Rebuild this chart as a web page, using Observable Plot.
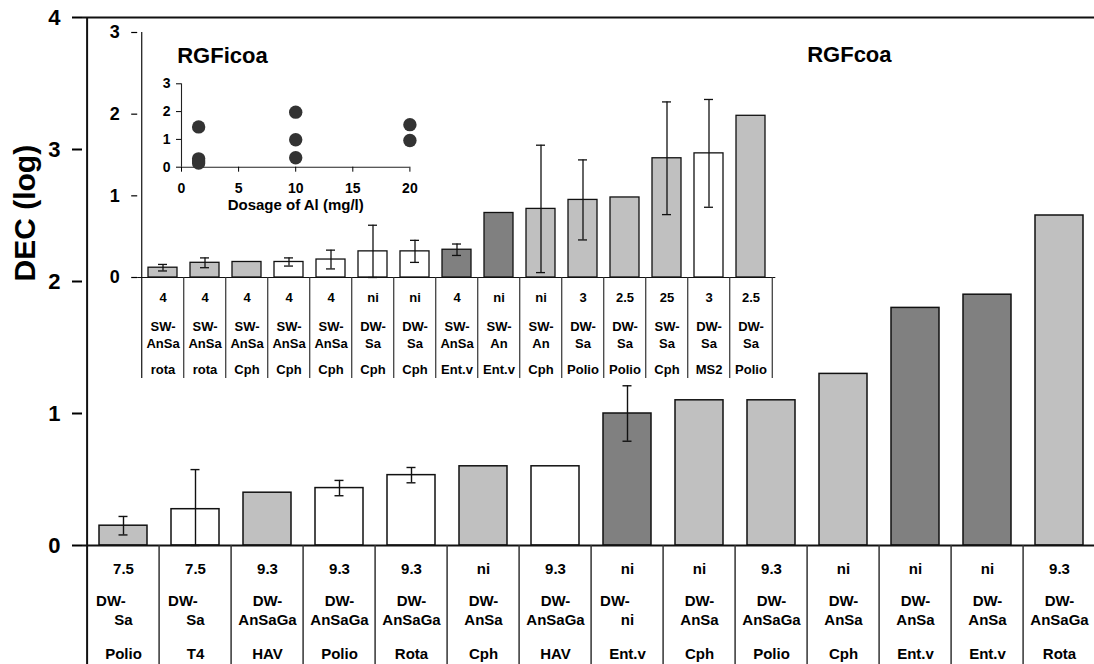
<!DOCTYPE html>
<html>
<head>
<meta charset="utf-8">
<script src="https://cdn.jsdelivr.net/npm/d3@7"></script>
<script src="https://cdn.jsdelivr.net/npm/@observablehq/plot@0.6"></script>
<style>
  html, body { margin: 0; padding: 0; background: #fff; overflow: hidden; }
  #chart { position: relative; width: 1094px; height: 664px; background: #fff; }
  #chart svg { position: absolute; left: 0; top: 0; background: transparent !important; overflow: hidden; }
</style>
</head>
<body>
<div id="chart"></div>
<script>
// ---- Main panel: RGFcoa treatments ----
const mainVirus   = ["Polio","T4","HAV","Polio","Rota","Cph","HAV","Ent.v","Cph","Polio","Cph","Ent.v","Ent.v","Rota"];
const mainPH      = ["7.5","7.5","9.3","9.3","9.3","ni","9.3","ni","ni","9.3","ni","ni","ni","9.3"];
const mainProcess = ["DW-Sa","DW-Sa","DW-AnSaGa","DW-AnSaGa","DW-AnSaGa","DW-AnSa","DW-AnSaGa","DW-ni","DW-AnSa","DW-AnSaGa","DW-AnSa","DW-AnSa","DW-AnSa","DW-AnSaGa"];
const mainDEC     = [0.15, 0.275, 0.40, 0.435, 0.533, 0.60, 0.60, 1.00, 1.10, 1.10, 1.30, 1.80, 1.90, 2.50];
const mainErr     = [0.07, 0.30, null, 0.058, 0.058, null, null, 0.21, null, null, null, null, null, null];
const mainGroup   = ["B","A","B","A","A","B","A","C","B","B","B","C","C","B"];
const mainTicks   = [0, 1, 2, 3, 4];

// ---- Inset panel: RGFicoa treatments ----
const insetVirus   = ["rota","rota","Cph","Cph","Cph","Cph","Cph","Ent.v","Ent.v","Cph","Polio","Polio","Cph","MS2","Polio"];
const insetPH      = ["4","4","4","4","4","ni","ni","4","ni","ni","3","2.5","25","3","2.5"];
const insetProcess = ["SW-AnSa","SW-AnSa","SW-AnSa","SW-AnSa","SW-AnSa","DW-Sa","DW-Sa","SW-AnSa","SW-An","SW-An","DW-Sa","DW-Sa","SW-Sa","DW-Sa","DW-Sa"];
const insetDEC     = [0.12, 0.18, 0.19, 0.19, 0.22, 0.32, 0.32, 0.34, 0.79, 0.84, 0.95, 0.98, 1.46, 1.52, 1.98];
const insetErr     = [0.04, 0.06, null, 0.05, 0.115, 0.32, 0.135, 0.07, null, 0.78, 0.49, null, 0.69, 0.66, null];
const insetGroup   = ["B","B","B","A","A","A","A","C","C","B","B","B","B","A","B"];
const insetTicks   = [0, 1, 2, 3];

// ---- Scatter: DEC versus Al dosage ----
const doseAl  = [1.5, 1.5, 1.5, 1.5, 10, 10, 10, 20, 20];
const doseDEC = [1.45, 0.30, 0.22, 0.15, 1.98, 0.99, 0.34, 1.53, 0.96];
const doseTicksX = [0, 5, 10, 15, 20];
const doseTicksY = [0, 1, 2, 3];

const W = 1094, H = 664;
const FONT = '"Liberation Sans", Arial, Helvetica, sans-serif';
const svgStyle = {fontFamily: FONT, background: "transparent", overflow: "hidden"};
const groupColor = {domain: ["A","B","C"], range: ["#ffffff", "#c0c0c0", "#808080"]};
const INK = "#111";

function split(s) {
  const k = s.indexOf("-");
  return [s.slice(0, k + 1), s.slice(k + 1)];
}
function rows(dec, err, grp, ph, proc, vir) {
  return dec.map((v, i) => ({
    i, dec: v, err: err[i], grp: grp[i], ph: ph[i],
    p1: split(proc[i])[0], p2: split(proc[i])[1], virus: vir[i]
  }));
}

const main = rows(mainDEC, mainErr, mainGroup, mainPH, mainProcess, mainVirus);
const inset = rows(insetDEC, insetErr, insetGroup, insetPH, insetProcess, insetVirus);
const doses = doseAl.map((x, i) => ({x, y: doseDEC[i]}));

const root = document.getElementById("chart");

// ---------- main chart ----------
{
  const left = 82, right = 1101.2, top = 17, base = 545;
  const step = (right - left) / main.length;
  const below = H - base;
  const withErr = main.filter(d => d.err != null);
  const txt = {fontSize: 15, fontWeight: "bold", fill: "#000", frameAnchor: "bottom", lineAnchor: "middle"};
  root.append(Plot.plot({
    width: W, height: H,
    marginLeft: left, marginRight: 0, marginTop: top, marginBottom: below,
    style: svgStyle,
    x: {type: "band", domain: d3.range(main.length), range: [left, right],
        paddingInner: 0.33, paddingOuter: 0.165, axis: null},
    y: {domain: [0, 4], axis: null},
    color: groupColor,
    marks: [
      Plot.barY(main, {x: "i", y: "dec", fill: "grp", stroke: INK, strokeWidth: 1.5}),
      Plot.ruleX(withErr, {x: "i", y1: d => Math.max(0, d.dec - d.err), y2: d => d.dec + d.err, stroke: INK, strokeWidth: 1.4}),
      Plot.tickY(withErr, {x: "i", y: d => d.dec + d.err, insetLeft: 19.5, insetRight: 19.5, stroke: INK, strokeWidth: 1.4}),
      Plot.tickY(withErr, {x: "i", y: d => Math.max(0, d.dec - d.err), insetLeft: 19.5, insetRight: 19.5, stroke: INK, strokeWidth: 1.4}),
      // frame lines: top border, baseline, left axis
      Plot.ruleY([4], {stroke: INK, strokeWidth: 2}),
      Plot.ruleY([0], {stroke: INK, strokeWidth: 2}),
      Plot.ruleX([0], {x: d => d, dx: -step / 2, insetBottom: -below, stroke: INK, strokeWidth: 2}),
      Plot.axisY({ticks: mainTicks, tickSize: 10, tickPadding: 12, fontSize: 22, fontWeight: "bold",
                  tickFormat: d => String(d), label: null, strokeWidth: 2}),
      // category table below the bars
      Plot.ruleX(main.slice(1), {x: "i", dx: -step / 2, insetTop: base - top, insetBottom: -below, stroke: "#333", strokeWidth: 1.5}),
      Plot.text(main, {...txt, x: "i", text: "ph", dy: 23.7}),
      Plot.text(main.filter(d => d.p2.length > 2), {...txt, x: "i", text: "p1", dy: 55.7}),
      Plot.text(main.filter(d => d.p2.length <= 2), {...txt, x: "i", text: "p1", dy: 55.7, textAnchor: "start", dx: -step / 2 + 9}),
      Plot.text(main, {...txt, x: "i", text: "p2", dy: 75}),
      Plot.text(main, {...txt, x: "i", text: "virus", dy: 108.3}),
      Plot.text(["RGFcoa"], {frameAnchor: "top-left", lineAnchor: "middle", text: d => d, textAnchor: "start",
                             dx: 806.7 - left, dy: 37, fontSize: 22, fontWeight: "bold", fill: "#000"}),
      Plot.text(["DEC (log)"], {frameAnchor: "left", lineAnchor: "middle", text: d => d, rotate: -90, dx: -57,
                                fontSize: 30, fontWeight: "bold", fill: "#000"})
    ]
  }));
}

// ---------- inset chart ----------
{
  const left = 137.2, right = 775.3, top = 32, base = 277, bottom = 378;
  const step = (right - left) / inset.length;
  const withErr = inset.filter(d => d.err != null);
  const txt = {fontSize: 13, fontWeight: "bold", fill: "#000", frameAnchor: "bottom", lineAnchor: "middle"};
  root.append(Plot.plot({
    width: W, height: H,
    marginLeft: left, marginRight: W - right, marginTop: top, marginBottom: H - base,
    style: svgStyle,
    x: {type: "band", domain: d3.range(inset.length), paddingInner: 0.32, paddingOuter: 0.16, axis: null},
    y: {domain: [0, 3], axis: null},
    color: groupColor,
    marks: [
      Plot.barY(inset, {x: "i", y: "dec", fill: "grp", stroke: INK, strokeWidth: 1.3}),
      Plot.ruleX(withErr, {x: "i", y1: d => Math.max(0, d.dec - d.err), y2: d => d.dec + d.err, stroke: INK, strokeWidth: 1.3}),
      Plot.tickY(withErr, {x: "i", y: d => d.dec + d.err, insetLeft: 10, insetRight: 10, stroke: INK, strokeWidth: 1.3}),
      Plot.tickY(withErr, {x: "i", y: d => Math.max(0, d.dec - d.err), insetLeft: 10, insetRight: 10, stroke: INK, strokeWidth: 1.3}),
      Plot.ruleY([0], {stroke: INK, strokeWidth: 1.2}),
      Plot.ruleX([0], {x: d => d, dx: -step / 2, insetBottom: -(bottom - base), stroke: INK, strokeWidth: 1.2}),
      Plot.axisY({ticks: insetTicks, tickSize: 6, tickPadding: 12, fontSize: 18, fontWeight: "bold",
                  tickFormat: d => String(d), label: null, strokeWidth: 1.2}),
      Plot.ruleX(inset.slice(1), {x: "i", dx: -step / 2, insetTop: base - top, insetBottom: -(bottom - base), stroke: "#333", strokeWidth: 1.2}),
      Plot.ruleX([inset.length - 1], {x: d => d, dx: step / 2, insetTop: base - top, insetBottom: -(bottom - base), stroke: "#333", strokeWidth: 1.2}),
      Plot.text(inset, {...txt, x: "i", text: "ph", dy: 20.7}),
      Plot.text(inset, {...txt, x: "i", text: "p1", dy: 49}),
      Plot.text(inset, {...txt, x: "i", text: "p2", dy: 66.3}),
      Plot.text(inset, {...txt, x: "i", text: "virus", dy: 92}),
      Plot.text(["RGFicoa"], {frameAnchor: "top-left", lineAnchor: "middle", text: d => d, textAnchor: "start",
                              dx: 176.7 - left, dy: 23, fontSize: 22, fontWeight: "bold", fill: "#000"})
    ]
  }));
}

// ---------- dosage scatter ----------
{
  const left = 181, right = 409.4, top = 83.3, base = 166.7;
  root.append(Plot.plot({
    width: W, height: H,
    marginLeft: left, marginRight: W - right, marginTop: top, marginBottom: H - base,
    style: svgStyle,
    x: {domain: [0, 20]},
    y: {domain: [0, 3]},
    marks: [
      Plot.ruleX([0], {stroke: "#222", strokeWidth: 1.1}),
      Plot.ruleY([0], {stroke: "#222", strokeWidth: 1.1}),
      Plot.axisX({ticks: doseTicksX, tickSize: 5, tickPadding: 11, fontSize: 14, fontWeight: "bold",
                  tickFormat: d => String(d), label: null}),
      Plot.axisY({ticks: doseTicksY, tickSize: 5, tickPadding: 6, fontSize: 14, fontWeight: "bold",
                  tickFormat: d => String(d), label: null}),
      Plot.dot(doses, {x: "x", y: "y", r: 6.7, fill: "#333", stroke: "none"}),
      Plot.text(["Dosage of Al (mg/l)"], {frameAnchor: "bottom", lineAnchor: "middle", text: d => d, dy: 38,
                                          fontSize: 15, fontWeight: "bold", fill: "#000"})
    ]
  }));
}
</script>
</body>
</html>
